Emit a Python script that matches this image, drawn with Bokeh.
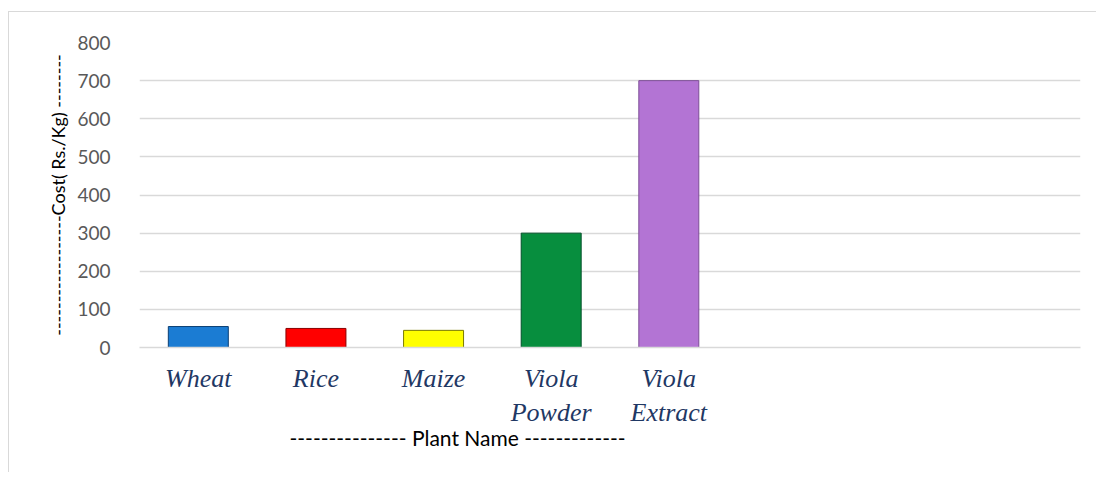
from bokeh.plotting import figure
from bokeh.models import ColumnDataSource, FactorRange, Range1d, Title
from bokeh.embed import file_html
from bokeh.resources import INLINE

plants = ["Wheat", "Rice", "Maize", "Viola\nPowder", "Viola\nExtract"]
empty_slots = [" ", "  ", "   "]
costs = [55, 50, 45, 300, 700]
bar_colors = ["#1B7CD3", "#FF0000", "#FFFF00", "#078E3E", "#B374D4"]
edge_colors = ["#0B3F73", "#8A0000", "#7A7A00", "#04502A", "#7D4E96"]
y_ticks = [0, 100, 200, 300, 400, 500, 600, 700, 800]

categories = plants + empty_slots

source = ColumnDataSource(dict(x=plants, top=costs, color=bar_colors, edge=edge_colors))

p = figure(
    x_range=FactorRange(*categories),
    y_range=Range1d(y_ticks[0], y_ticks[-1]),
    frame_width=941, frame_height=305,
    output_backend="svg", toolbar_location=None,
    min_border_left=130, min_border_right=16, min_border_top=30, min_border_bottom=125,
)
p.margin = (11, 0, 0, 8)
p.styles = {"border-left": "1.5px solid #d9d9d9", "border-top": "1.5px solid #d9d9d9"}
p.outline_line_color = None
p.background_fill_color = "white"
p.border_fill_color = "white"

p.vbar(x="x", top="top", bottom=0, width=0.51, source=source,
       fill_color="color", line_color="edge", line_width=1)

# grid
p.xgrid.grid_line_color = None
p.ygrid.grid_line_color = "#d9d9d9"
p.ygrid.grid_line_width = 1.5
p.yaxis.ticker = y_ticks

# y axis
p.yaxis.axis_line_color = None
p.yaxis.major_tick_line_color = None
p.yaxis.minor_tick_line_color = None
p.yaxis.major_label_text_font = "Lato"
p.yaxis.major_label_text_font_size = "19px"
p.yaxis.major_label_text_color = "#595959"
p.yaxis.major_label_standoff = 23
p.yaxis.axis_label = "------------------Cost( Rs./Kg) --------"
p.yaxis.axis_label_text_font = "Lato"
p.yaxis.axis_label_text_font_style = "normal"
p.yaxis.axis_label_text_font_size = "18px"
p.yaxis.axis_label_text_color = "black"
p.yaxis.axis_label_standoff = 5

# x axis
p.xaxis.axis_line_color = "#d9d9d9"
p.xaxis.axis_line_width = 1.5
p.xaxis.major_tick_line_color = None
p.xaxis.minor_tick_line_color = None
p.xaxis.major_label_text_font = "Liberation Serif"
p.xaxis.major_label_text_font_style = "italic"
p.xaxis.major_label_text_font_size = "26px"
p.xaxis.major_label_text_color = "#1F3864"
p.xaxis.major_label_standoff = 10
p.xaxis.major_label_orientation = "horizontal"

t = Title(text="---------------  Plant Name -------------", align="left", offset=150,
          text_font="Lato", text_font_size="21px", text_font_style="normal",
          text_color="black", standoff=-16)
p.add_layout(t, "below")

open("out.html", "w").write(file_html(p, INLINE))
